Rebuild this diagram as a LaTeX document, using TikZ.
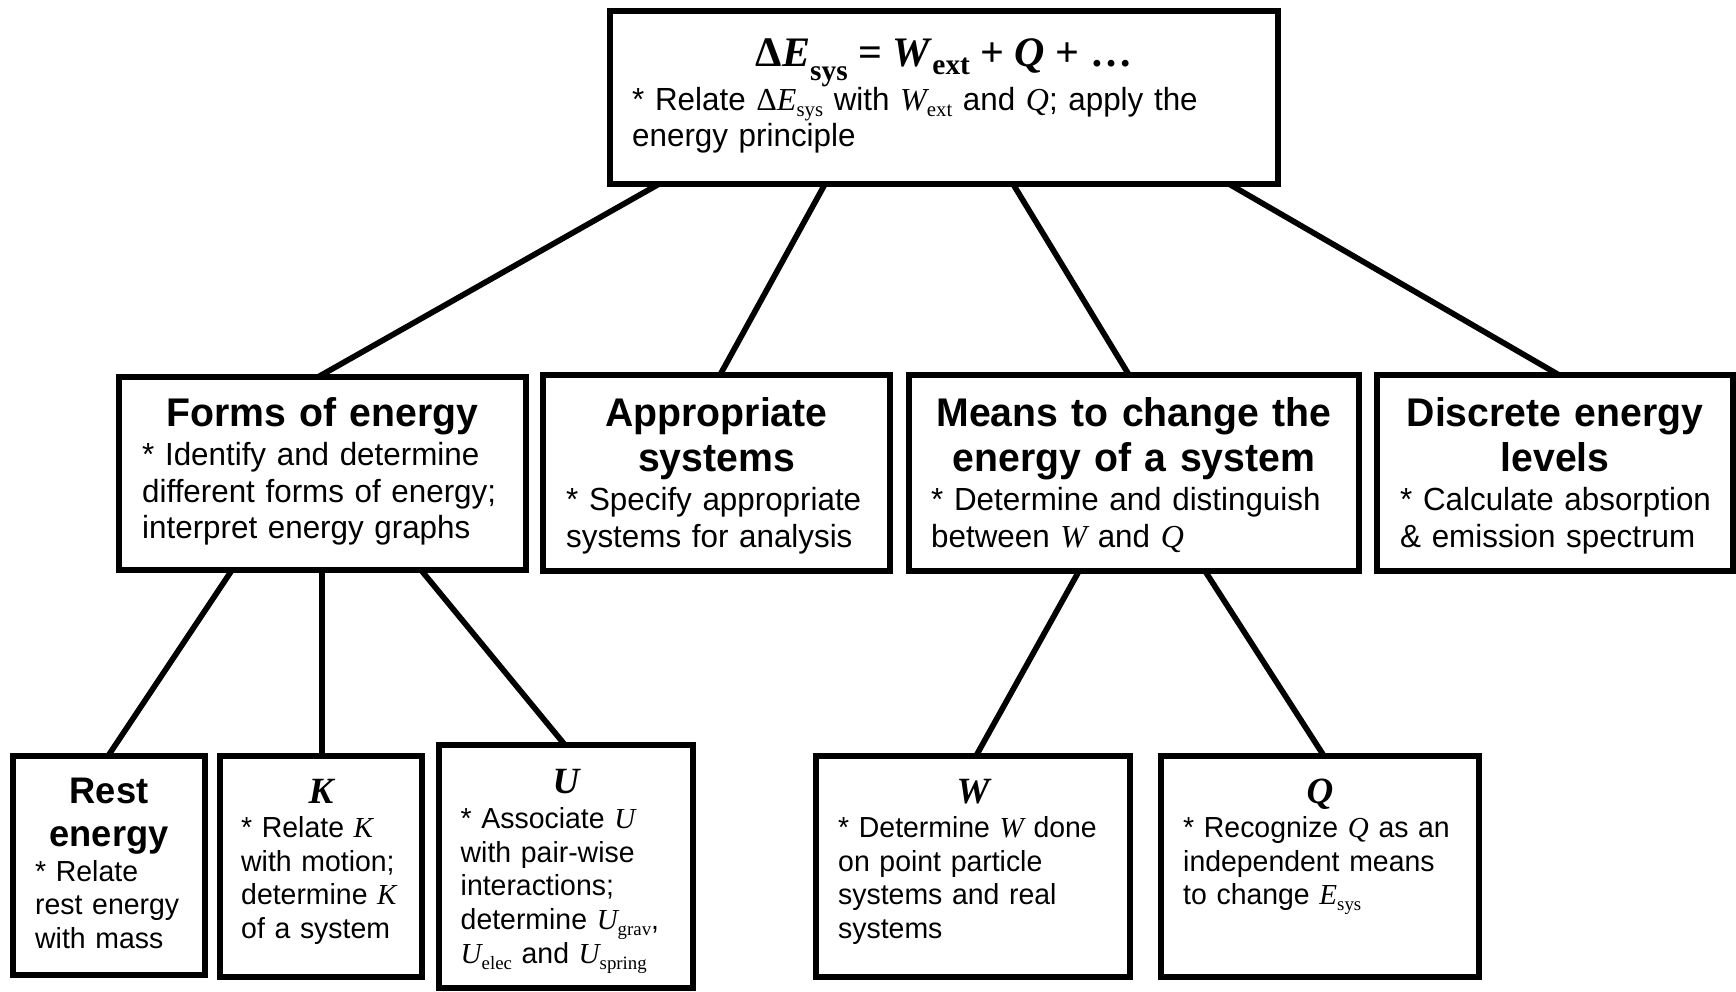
\documentclass[tikz,border=0pt]{standalone}
\usepackage{fontspec}
\setmainfont[FakeStretch=0.98]{Liberation Sans}
\newfontfamily\tnr{Liberation Serif}
\usepackage{graphicx}
\usetikzlibrary{calc}
\newcommand\mysub[1]{\raisebox{-0.2em}{\scalebox{0.65}{\tnr #1}}}
\newcommand\mi[1]{{\tnr\itshape #1}}
\begin{document}
\begin{tikzpicture}[x=1pt,y=-1pt,
 box/.style={draw, line width=5.7pt, inner sep=0pt, outer sep=0pt, anchor=north west},
 conn/.style={line width=5.7pt},
 ttl/.style={anchor=base, inner sep=0pt, align=center, text width=#1, font=\fontsize{40}{45}\selectfont\bfseries},
 ttls/.style={anchor=base, inner sep=0pt, align=center, text width=#1, font=\fontsize{37}{43}\selectfont\bfseries},
 txt/.style={anchor=base west, inner sep=0pt, align=left, text width=600pt, font=\fontsize{32}{36.5}\selectfont},
 txts/.style={anchor=base west, inner sep=0pt, align=left, text width=300pt, font=\fontsize{29}{33.7}\selectfont},
]
\fill[white] (0,0) rectangle (1736,991);
\useasboundingbox (0,0) rectangle (1736,991);

% boxes
\node[box, minimum width=668pt, minimum height=173pt] (top) at (610,11) {};
\node[box, minimum width=407pt, minimum height=193pt] (forms) at (119,377) {};
\node[box, minimum width=347pt, minimum height=196pt] (appr) at (543,375) {};
\node[box, minimum width=450pt, minimum height=196pt] (means) at (909,375) {};
\node[box, minimum width=356pt, minimum height=196pt] (disc) at (1377,375) {};
\node[box, minimum width=192pt, minimum height=219pt] (rest) at (13,756) {};
\node[box, minimum width=202pt, minimum height=221pt] (kin) at (220,756) {};
\node[box, minimum width=254pt, minimum height=243pt] (pot) at (439,745) {};
\node[box, minimum width=314pt, minimum height=221pt] (work) at (816,756) {};
\node[box, minimum width=318pt, minimum height=221pt] (heat) at (1161,756) {};

% connectors
\draw[conn] ([xshift=49pt]top.south west) -- ([xshift=199pt]forms.north west);
\draw[conn] ([xshift=215pt]top.south west) -- ([xshift=177pt]appr.north west);
\draw[conn] ([xshift=403pt]top.south west) -- ([xshift=220pt]means.north west);
\draw[conn] ([xshift=619pt]top.south west) -- ([xshift=182pt]disc.north west);
\draw[conn] ([xshift=113pt]forms.south west) -- ([xshift=95pt]rest.north west);
\draw[conn] ([xshift=203pt]forms.south west) -- ([xshift=102pt]kin.north west);
\draw[conn] ([xshift=302pt]forms.south west) -- ([xshift=126pt]pot.north west);
\draw[conn] ([xshift=170pt]means.south west) -- ([xshift=160pt]work.north west);
\draw[conn] ([xshift=296pt]means.south west) -- ([xshift=163pt]heat.north west);

% top box text
\node[anchor=base, inner sep=0pt, font=\tnr\bfseries\fontsize{42}{42}\selectfont] (eq) at (944,66)
 {Δ\textit{E}\raisebox{-0.35em}{\scalebox{0.7}{sys}} = \textit{W}\raisebox{-0.2em}{\scalebox{0.7}{ext}} + \textit{Q} + …};
\node[txt] (topb) at (632,110) {* Relate {\tnr Δ\textit{E}}\mysub{sys} with \mi{W}\mysub{ext} and \mi{Q}; apply the\\energy principle};

% row 2
\node[ttl=404pt] (formst) at (322.5,426) {Forms of energy};
\node[txt] (formsb) at (142,465.5) {* Identify and determine\\different forms of energy;\\interpret energy graphs};
\node[ttl=344pt] (apprt) at (716.5,426) {Appropriate\\systems};
\node[txt] (apprb) at (566,510.5) {* Specify appropriate\\systems for analysis};
\node[ttl=447pt] (meanst) at (1134,426) {Means to change the\\energy of a system};
\node[txt] (meansb) at (931,510.5) {* Determine and distinguish\\between \mi{W} and \mi{Q}};
\node[ttl=353pt] (disct) at (1555,426) {Discrete energy\\levels};
\node[txt] (discb) at (1400,510.5) {* Calculate absorption\\\& emission spectrum};

% row 3
\node[ttls=189pt] (restt) at (109,803) {Rest\\energy};
\node[txts] (restb) at (35,881) {* Relate\\rest energy\\with mass};
\node[ttls=199pt, font=\tnr\fontsize{37}{43}\selectfont\bfseries\itshape] (kint) at (321,803) {K};
\node[txts] (kinb) at (241,837.5) {* Relate \mi{K}\\with motion;\\determine \mi{K}\\of a system};
\node[ttls=251pt, font=\tnr\fontsize{37}{43}\selectfont\bfseries\itshape] (pott) at (566,793.5) {U};
\node[txts] (potb) at (460.5,828.5) {* Associate \mi{U}\\with pair-wise\\interactions;\\determine \mi{U}\mysub{grav},\\\mi{U}\mysub{elec} and \mi{U}\mysub{spring}};
\node[ttls=311pt, font=\tnr\fontsize{37}{43}\selectfont\bfseries\itshape] (workt) at (973,803) {W};
\node[txts] (workb) at (838,837.5) {* Determine \mi{W} done\\on point particle\\systems and real\\systems};
\node[ttls=315pt, font=\tnr\fontsize{37}{43}\selectfont\bfseries\itshape] (heatt) at (1320,803) {Q};
\node[txts] (heatb) at (1183,837.5) {* Recognize \mi{Q} as an\\independent means\\to change \mi{E}\mysub{sys}};
\end{tikzpicture}
\end{document}
